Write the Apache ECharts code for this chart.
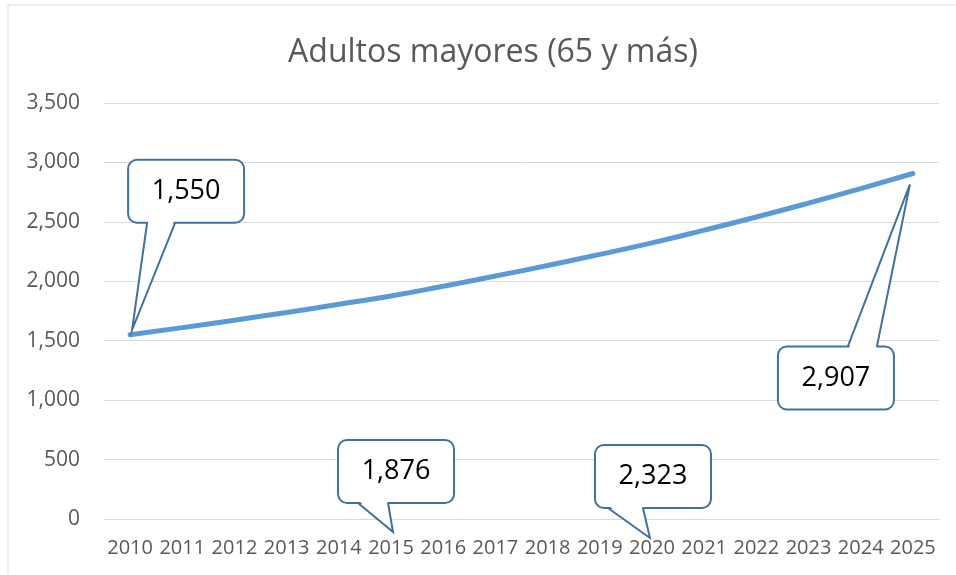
<!DOCTYPE html>
<html>
<head>
<meta charset="utf-8">
<script src="https://cdn.jsdelivr.net/npm/echarts@6/dist/echarts.min.js"></script>
<style>
  html, body { margin: 0; padding: 0; background: #fff; }
  #chart { width: 956px; height: 575px; }
</style>
</head>
<body>
<div id="chart"></div>
<script>
// data
const years = ['2010', '2011', '2012', '2013', '2014', '2015', '2016', '2017',
    '2018', '2019', '2020', '2021', '2022', '2023', '2024', '2025'];
const adultos = [1550, 1610, 1673, 1738, 1806, 1876, 1958, 2044,
    2133, 2226, 2323, 2430, 2541, 2658, 2780, 2907];
const yTicks = [0, 500, 1000, 1500, 2000, 2500, 3000, 3500];
const calloutIdx = [0, 5, 10, 15];

// callout geometry, relative to the anchor (data point or axis under the year)
const calloutLayout = [
    { at: 'point', box: [-2, -175], base: [17, 45], edge: 'bottom', tip: [2, -5] },
    { at: 'axis', box: [-53, -79], base: [-33, -3], edge: 'bottom', tip: [2, 13] },
    { at: 'axis', box: [-57, -74], base: [-44, -9], edge: 'bottom', tip: [-2, 19] },
    { at: 'point', box: [-135, 173], base: [-65, -36], edge: 'top', tip: [-3, 11] },
];
const BOX_W = 116, BOX_H = 63;
const CALLOUT_BLUE = '#41719c';

const chart = echarts.init(document.getElementById('chart'));
chart.setOption({
    animation: false,
    title: {
        text: 'Adultos mayores (65 y más)',
        left: 488,
        top: 32,
        textAlign: 'center',
        textStyle: { fontFamily: 'Open Sans', fontSize: 32, fontWeight: 'normal', color: '#595959' },
    },
    grid: { left: 104, right: 17, top: 103, bottom: 56 },
    xAxis: {
        type: 'category',
        data: years,
        boundaryGap: true,
        axisLine: { lineStyle: { color: '#d9d9d9', width: 1 } },
        axisTick: { show: false },
        axisLabel: { color: '#595959', fontFamily: 'Open Sans', fontSize: 20, margin: 19, interval: 0 },
    },
    yAxis: {
        type: 'value',
        min: yTicks[0],
        max: yTicks[yTicks.length - 1],
        interval: 500,
        axisLine: { show: false },
        axisTick: { show: false },
        splitLine: { lineStyle: { color: '#d9d9d9', width: 1 } },
        axisLabel: {
            color: '#595959', fontFamily: 'Open Sans', fontSize: 21, margin: 24,
            formatter: v => v.toLocaleString('en-US'),
        },
    },
    series: [{
        name: 'Adultos mayores',
        type: 'line',
        data: adultos,
        smooth: true,
        showSymbol: false,
        lineStyle: { color: '#5b9bd5', width: 5, cap: 'round' },
    }],
});

// speech-bubble callouts
const axisY = chart.convertToPixel({ yAxisIndex: 0 }, 0);
const graphics = [
    { type: 'rect', shape: { x: 8, y: 5, width: 980, height: 600 }, style: { fill: null, stroke: '#d9d9d9', lineWidth: 1 }, silent: true },
];
calloutIdx.forEach((idx, k) => {
    const lay = calloutLayout[k];
    const p = chart.convertToPixel({ seriesIndex: 0 }, [idx, adultos[idx]]);
    const ax = p[0];
    const ay = lay.at === 'point' ? p[1] : axisY;
    const bx = ax + lay.box[0], by = ay + lay.box[1];
    const edgeY = lay.edge === 'bottom' ? by + BOX_H : by;
    const inset = lay.edge === 'bottom' ? -2 : 2;
    const b1 = [ax + lay.base[0], edgeY], b2 = [ax + lay.base[1], edgeY];
    const tip = [ax + lay.tip[0], ay + lay.tip[1]];
    graphics.push(
        { type: 'rect', z: 10, shape: { x: bx, y: by, width: BOX_W, height: BOX_H, r: 9 },
          style: { fill: '#fff', stroke: CALLOUT_BLUE, lineWidth: 2 } },
        { type: 'polygon', z: 11, shape: { points: [[b1[0] + 1, edgeY + inset], tip, [b2[0] - 1, edgeY + inset]] },
          style: { fill: '#fff' } },
        { type: 'polyline', z: 12, shape: { points: [b1, tip, b2] },
          style: { fill: null, stroke: CALLOUT_BLUE, lineWidth: 2 } },
        { type: 'text', z: 13, x: bx + BOX_W / 2, y: by + BOX_H / 2,
          style: { text: adultos[idx].toLocaleString('en-US'), fontFamily: 'Open Sans', fontSize: 27,
                   fill: '#000', align: 'center', verticalAlign: 'middle',
                   textAlign: 'center', textVerticalAlign: 'middle' } }
    );
});
chart.setOption({ graphic: graphics });
</script>
</body>
</html>
